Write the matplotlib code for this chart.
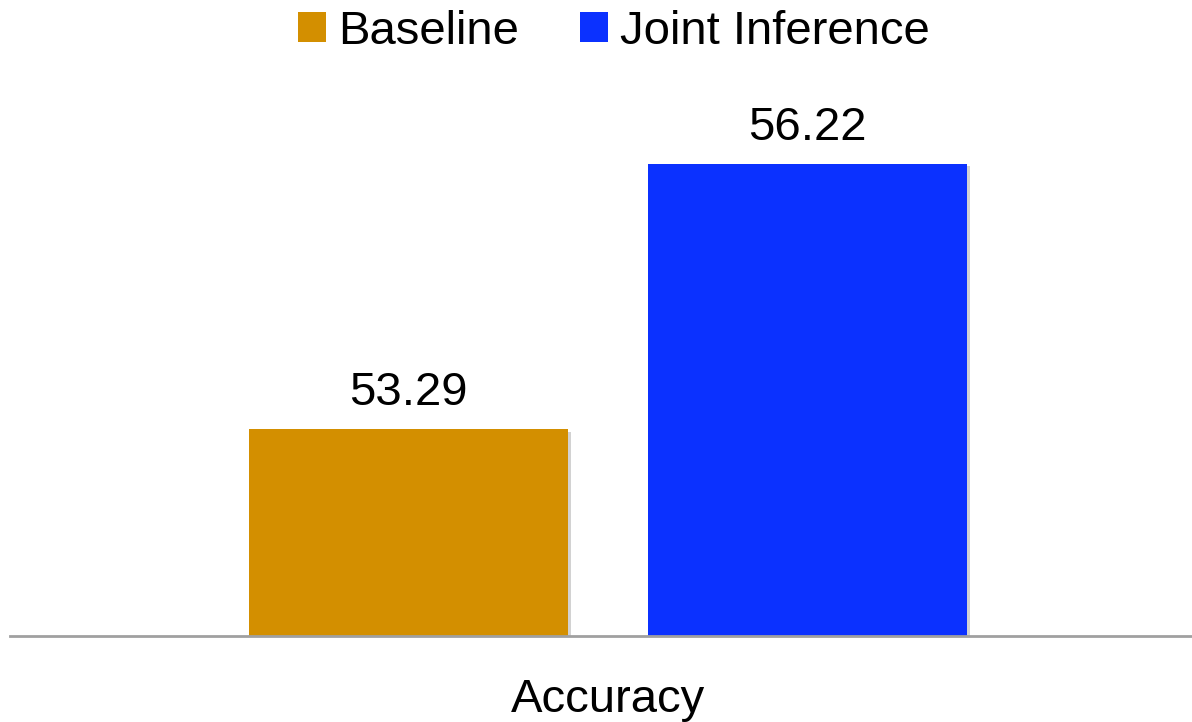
import numpy as np
import matplotlib.pyplot as plt
import matplotlib.patheffects as pe
from matplotlib.patches import Patch

plt.rcParams['font.family'] = ['Liberation Sans', 'DejaVu Sans']

series = ['Baseline', 'Joint Inference']
values = [53.29, 56.22]
colors = ['#D38F00', '#0B31FF']
category = 'Accuracy'

fig = plt.figure(figsize=(11.92, 7.22), dpi=100)
ax = fig.add_axes([10 / 1192, 86 / 722, 1182 / 1192, 543 / 722])

width = 0.8
offsets = np.array([-0.5, 0.5])
shadow = [pe.SimplePatchShadow(offset=(2, -2), shadow_rgbFace='gray', alpha=0.35), pe.Normal()]
for off, val, col, name in zip(offsets, values, colors, series):
    bar = ax.bar(off, val - 51, bottom=51, width=width, color=col, label=name)
    bar[0].set_path_effects(shadow)
    ax.annotate(f'{val:.2f}', (off, val), xytext=(0, 10), textcoords='offset points',
                ha='center', va='bottom', fontsize=34)

ax.set_ylim(51, 57)
ax.set_xlim(-1.50, 1.465)
ax.set_yticks([])
ax.set_xticks([0])
ax.set_xticklabels([category], fontsize=34)
ax.tick_params(axis='x', length=0, pad=30)
for side in ['top', 'right', 'left']:
    ax.spines[side].set_visible(False)
ax.spines['bottom'].set_color('#A0A0A0')
ax.spines['bottom'].set_linewidth(2)
ax.spines['bottom'].set_zorder(3)

handles = [Patch(facecolor=c, label=s) for c, s in zip(colors, series)]
fig.legend(handles=handles, loc='upper center', bbox_to_anchor=(0.515, 1.045), ncol=2,
           frameon=False, fontsize=34, handlelength=0.6, handleheight=0.6,
           handletextpad=0.25, columnspacing=1.3)

plt.savefig('out.png', dpi=100)
